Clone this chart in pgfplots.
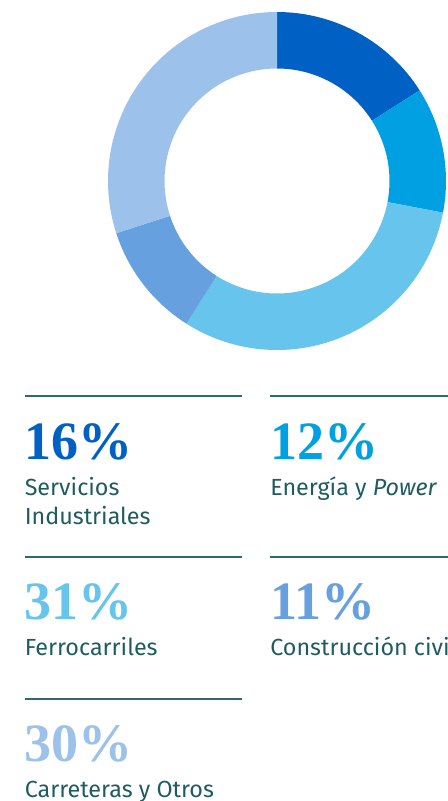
\documentclass[border=0pt]{standalone}
\usepackage{pgfplots}
\usepackage{pgfplotstable}
\pgfplotsset{compat=1.18}
\usepackage{fontspec}
\setmainfont{Fira Sans}
\newfontfamily\numfont{Liberation Serif}

\definecolor{seg0}{HTML}{0060C4}
\definecolor{seg1}{HTML}{00A0E2}
\definecolor{seg2}{HTML}{67C4EC}
\definecolor{seg3}{HTML}{66A0DE}
\definecolor{seg4}{HTML}{9CC1EB}
\definecolor{txt}{HTML}{1E5C61}
\definecolor{rule}{HTML}{2B6B6E}

% share of each business line, clockwise from 12 o'clock
\pgfplotstableread{
pct
16
12
31
11
30
}\donutdata

\newcommand{\bignum}[1]{\fontsize{40.5}{40.5}\selectfont\numfont\bfseries #1}
\newcommand{\lbl}{\fontsize{17.5}{21}\selectfont}

\begin{document}
\begin{tikzpicture}
\path[use as bounding box, clip] (0,0) rectangle (336pt,600.75pt);
\begin{axis}[
    at={(0,0)}, anchor=south west,
    scale only axis,
    width=336pt, height=600.75pt,
    xmin=0, xmax=448, ymin=0, ymax=801,
    y dir=reverse,
    hide axis,
    clip=false,
]
% donut
\xdef\cum{0}
\pgfplotsinvokeforeach{0,...,4}{
    \pgfplotstablegetelem{#1}{pct}\of\donutdata
    \pgfmathsetmacro\A{90-3.6*\cum}
    \pgfmathsetmacro\B{90-3.6*(\cum+\pgfplotsretval)}
    \pgfmathsetmacro\newcum{\cum+\pgfplotsretval}
    \xdef\cum{\newcum}
    \edef\seg{\noexpand\fill[seg#1] (axis cs:277,181) ++(\A:126.75pt)
        arc[start angle=\A, end angle=\B, radius=126.75pt]
        -- ++(\B:-42.375pt)
        arc[start angle=\B, end angle=\A, radius=84.375pt] -- cycle;}
    \seg
}

% rules
\draw[rule, line width=0.8pt] (axis cs:24.5,396) -- (axis cs:241.5,396);
\draw[rule, line width=0.8pt] (axis cs:270,396) -- (axis cs:460,396);
\draw[rule, line width=0.8pt] (axis cs:24.5,557) -- (axis cs:241.5,557);
\draw[rule, line width=0.8pt] (axis cs:270,557) -- (axis cs:460,557);
\draw[rule, line width=0.8pt] (axis cs:24.5,699) -- (axis cs:241.5,699);

% labels
\tikzset{lb/.style={anchor=base west, inner sep=0pt, text=txt}}
\node[lb, text=seg0] at (axis cs:24.5,459) {\bignum{16\%}};
\node[lb] at (axis cs:24.5,495) {\lbl Servicios};
\node[lb] at (axis cs:24.5,524) {\lbl Industriales};

\node[lb, text=seg1] at (axis cs:270,459) {\bignum{12\%}};
\node[lb] at (axis cs:270,495) {\lbl Energía y \textit{Power}};

\node[lb, text=seg2] at (axis cs:24.5,619) {\bignum{31\%}};
\node[lb] at (axis cs:24.5,655) {\lbl Ferrocarriles};

\node[lb, text=seg3] at (axis cs:270,619) {\bignum{11\%}};
\node[lb] at (axis cs:270,655) {\lbl Construcción civil};

\node[lb, text=seg4] at (axis cs:24.5,761) {\bignum{30\%}};
\node[lb] at (axis cs:24.5,797) {\lbl Carreteras y Otros};
\end{axis}
\end{tikzpicture}
\end{document}
